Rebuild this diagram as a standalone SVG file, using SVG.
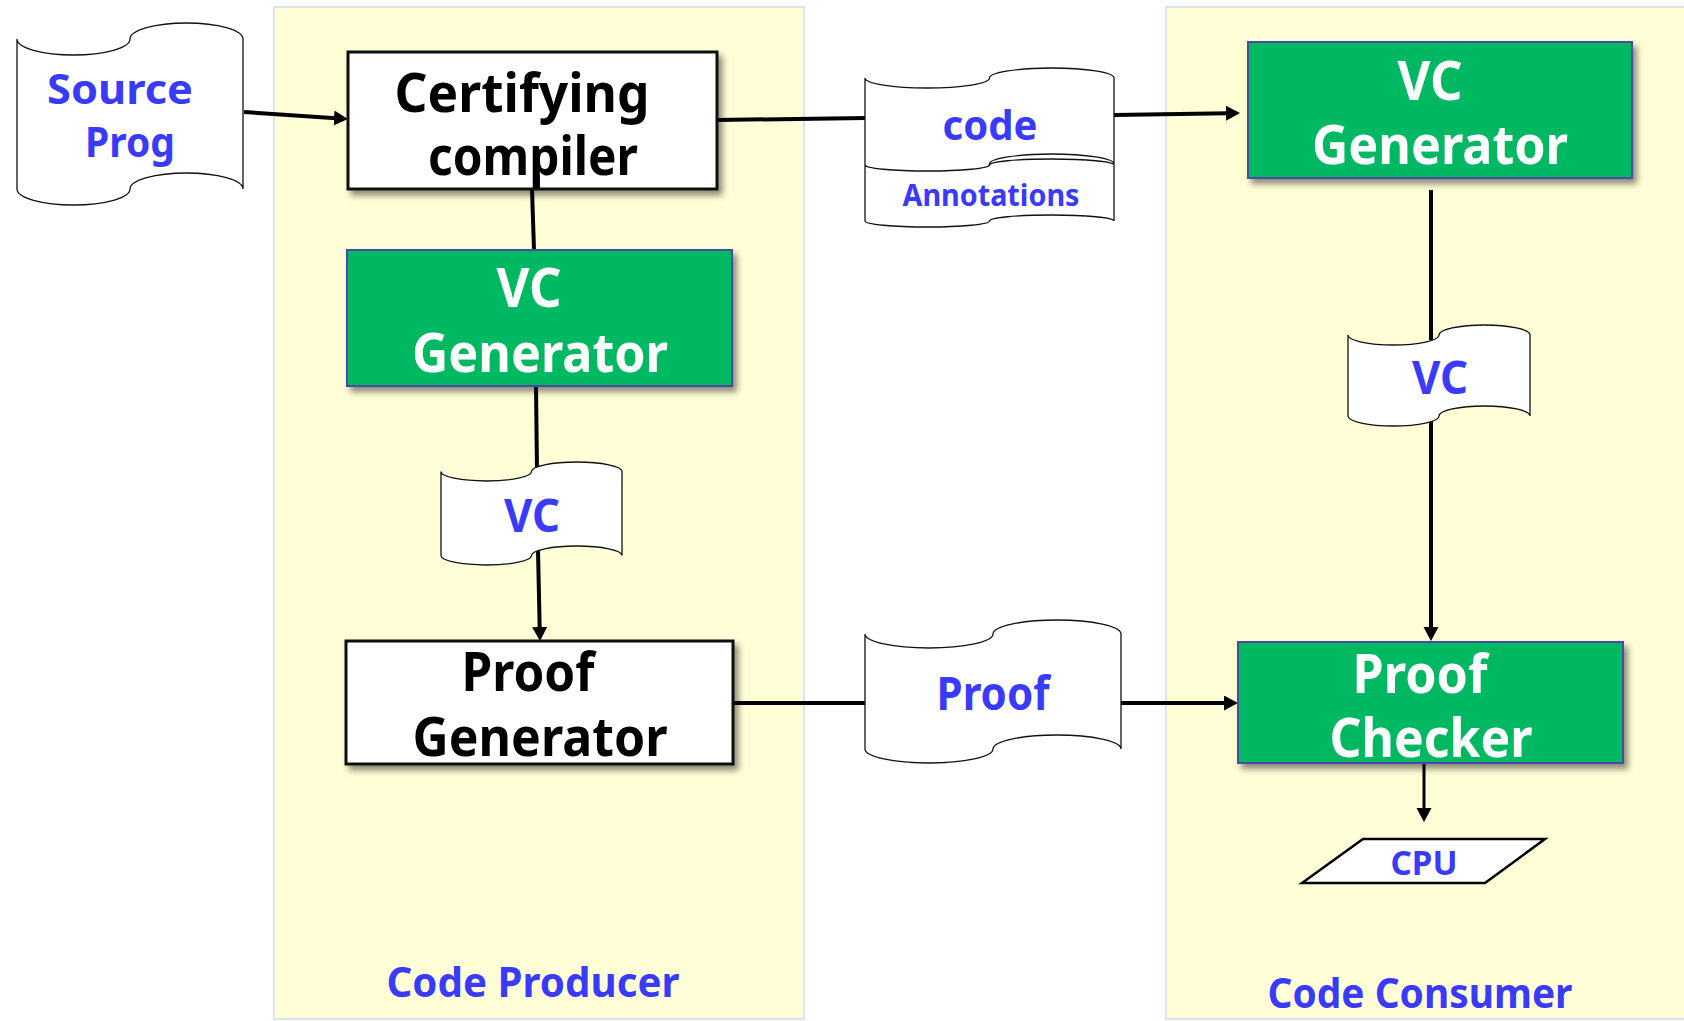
<svg xmlns="http://www.w3.org/2000/svg" width="1684" height="1021" viewBox="0 0 1684 1021">
<defs>
<style>
.panel{fill:#FFFED6;stroke:#D6E6EA;stroke-width:2}
.wbox{fill:#FFFFFF;stroke:#111;stroke-width:3}
.gbox{fill:#00B862;stroke:#4A4AA8;stroke-width:2}
.doc{fill:#FFFFFF;stroke:#111;stroke-width:1.3}
.t{font-family:'Noto Sans','DejaVu Sans',sans-serif;font-weight:bold;text-anchor:middle}
.bk{fill:#000}
.wh{fill:#FFFFFF}
.bl{fill:#3A3AFA}
.c{stroke:#000;stroke-width:4;fill:none}
.c2{stroke:#000;stroke-width:3;fill:none}
</style>
<filter id="sh" x="-10%" y="-10%" width="125%" height="130%">
<feDropShadow dx="4" dy="5" stdDeviation="3" flood-color="#000" flood-opacity="0.45"/>
</filter>
<marker id="ah" markerUnits="userSpaceOnUse" markerWidth="16" markerHeight="16" refX="2" refY="7.5" orient="auto">
<path d="M0,0 L14,7.5 L0,15 Z" fill="#000"/>
</marker>
</defs>

<g id="panels">
<rect id="producer-panel" class="panel" x="274" y="7" width="530" height="1012"/>
<rect id="consumer-panel" class="panel" x="1166" y="7" width="522" height="1012"/>
</g>

<g id="connectors">
<line class="c" x1="244" y1="112" x2="336" y2="118.2" marker-end="url(#ah)"/>
<line class="c" x1="717" y1="120" x2="866" y2="118"/>
<line class="c" x1="1114" y1="115" x2="1228" y2="113.2" marker-end="url(#ah)"/>
<line class="c" x1="532" y1="189" x2="534" y2="250"/>
<line class="c" x1="536" y1="386" x2="537" y2="472"/>
<line class="c" x1="538" y1="550" x2="539.7" y2="629" marker-end="url(#ah)"/>
<line class="c" x1="733" y1="703" x2="866" y2="703"/>
<line class="c" x1="1120" y1="703" x2="1226" y2="703" marker-end="url(#ah)"/>
<line class="c" x1="1431" y1="190" x2="1431" y2="340"/>
<line class="c" x1="1431" y1="410" x2="1431" y2="629" marker-end="url(#ah)"/>
<line class="c2" x1="1424" y1="763" x2="1424" y2="810" marker-end="url(#ah)"/>
</g>

<g id="source-prog">
<path class="doc" d="M17,39 A56.5,16 0 0 0 130,39 A56.5,16 0 0 1 243,39 L243,189 A56.5,16 0 0 0 130,189 A56.5,16 0 0 1 17,189 Z"/>
<text class="t bl" x="120" y="104" font-size="42" textLength="146" lengthAdjust="spacingAndGlyphs">Source</text>
<text class="t bl" x="130" y="157" font-size="42" textLength="90" lengthAdjust="spacingAndGlyphs">Prog</text>
</g>

<g id="certifying-compiler">
<rect class="wbox" x="348" y="52" width="369" height="137" filter="url(#sh)"/>
<text class="t bk" x="522" y="112" font-size="54" textLength="255" lengthAdjust="spacingAndGlyphs">Certifying</text>
<text class="t bk" x="533" y="175" font-size="54" textLength="210" lengthAdjust="spacingAndGlyphs">compiler</text>
</g>

<g id="code-annotations">
<path class="doc" d="M865,78 A62.25,10 0 0 0 989.5,78 A62.25,10 0 0 1 1114,78 L1114,164 A62.25,10 0 0 0 989.5,164 A62.25,10 0 0 1 865,164 Z"/>
<path class="doc" d="M865,165 A62.25,6 0 0 0 989.5,165 A62.25,6 0 0 1 1114,165 L1114,221 A62.25,6 0 0 0 989.5,221 A62.25,6 0 0 1 865,221 Z"/>
<text class="t bl" x="990" y="140" font-size="42" textLength="95" lengthAdjust="spacingAndGlyphs">code</text>
<text class="t bl" x="991" y="206" font-size="30" textLength="177" lengthAdjust="spacingAndGlyphs">Annotations</text>
</g>

<g id="consumer-vc-generator">
<rect class="gbox" x="1248" y="42" width="384" height="136" filter="url(#sh)"/>
<text class="t wh" x="1430" y="100" font-size="54" textLength="65" lengthAdjust="spacingAndGlyphs">VC</text>
<text class="t wh" x="1440" y="164" font-size="54" textLength="256" lengthAdjust="spacingAndGlyphs">Generator</text>
</g>

<g id="producer-vc-generator">
<rect class="gbox" x="347" y="250" width="385" height="136" filter="url(#sh)"/>
<text class="t wh" x="529" y="307" font-size="54" textLength="65" lengthAdjust="spacingAndGlyphs">VC</text>
<text class="t wh" x="540" y="372" font-size="54" textLength="256" lengthAdjust="spacingAndGlyphs">Generator</text>
</g>

<g id="producer-vc">
<path class="doc" d="M441,471.5 A45.25,9.5 0 0 0 531.5,471.5 A45.25,9.5 0 0 1 622,471.5 L622,555.5 A45.25,9.5 0 0 0 531.5,555.5 A45.25,9.5 0 0 1 441,555.5 Z"/>
<text class="t bl" x="532" y="532" font-size="46" textLength="56" lengthAdjust="spacingAndGlyphs">VC</text>
</g>

<g id="proof-generator">
<rect class="wbox" x="346" y="641" width="387" height="123" filter="url(#sh)"/>
<text class="t bk" x="528" y="691" font-size="54" textLength="133" lengthAdjust="spacingAndGlyphs">Proof</text>
<text class="t bk" x="540" y="756" font-size="54" textLength="255" lengthAdjust="spacingAndGlyphs">Generator</text>
</g>

<g id="proof-doc">
<path class="doc" d="M865,634 A64,14 0 0 0 993,634 A64,14 0 0 1 1121,634 L1121,749 A64,14 0 0 0 993,749 A64,14 0 0 1 865,749 Z"/>
<text class="t bl" x="993" y="710" font-size="46" textLength="113" lengthAdjust="spacingAndGlyphs">Proof</text>
</g>

<g id="consumer-vc">
<path class="doc" d="M1348,335 A45.5,10 0 0 0 1439,335 A45.5,10 0 0 1 1530,335 L1530,416 A45.5,10 0 0 0 1439,416 A45.5,10 0 0 1 1348,416 Z"/>
<text class="t bl" x="1440" y="394" font-size="46" textLength="56" lengthAdjust="spacingAndGlyphs">VC</text>
</g>

<g id="proof-checker">
<rect class="gbox" x="1238" y="642" width="385" height="121" filter="url(#sh)"/>
<text class="t wh" x="1420" y="693" font-size="54" textLength="135" lengthAdjust="spacingAndGlyphs">Proof</text>
<text class="t wh" x="1431" y="757" font-size="54" textLength="203" lengthAdjust="spacingAndGlyphs">Checker</text>
</g>

<g id="cpu">
<polygon points="1302,883 1363,839 1545,839 1485,883" fill="#FFFFFF" stroke="#000" stroke-width="2.5"/>
<text class="t bl" x="1424" y="875" font-size="34" textLength="67" lengthAdjust="spacingAndGlyphs">CPU</text>
</g>

<g id="labels">
<text class="t bl" x="533" y="997" font-size="42" textLength="293" lengthAdjust="spacingAndGlyphs">Code Producer</text>
<text class="t bl" x="1420" y="1008" font-size="42" textLength="305" lengthAdjust="spacingAndGlyphs">Code Consumer</text>
</g>
</svg>
